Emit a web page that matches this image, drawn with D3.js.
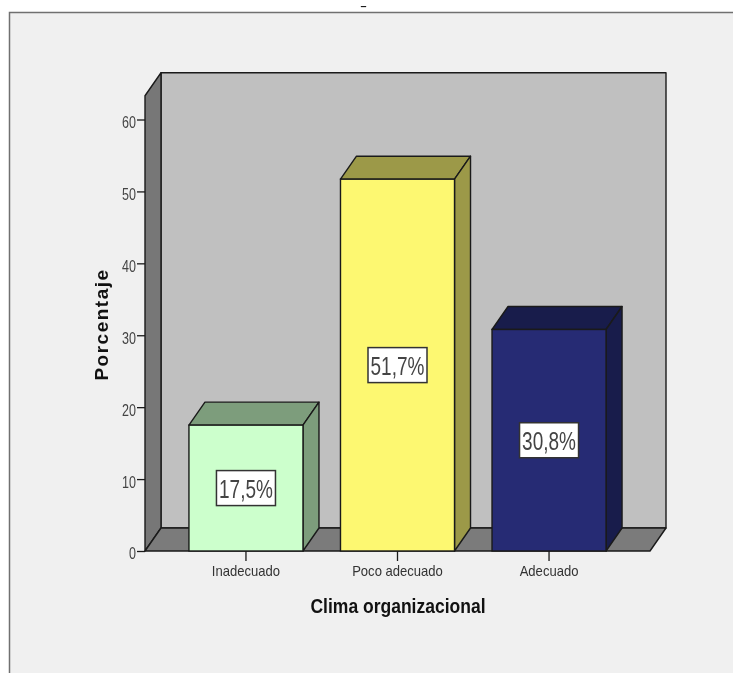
<!DOCTYPE html>
<html><head><meta charset="utf-8">
<script src="https://cdn.jsdelivr.net/npm/d3@7/dist/d3.min.js"></script>
<style>
html,body{margin:0;padding:0;background:#fff;overflow:hidden}
svg{display:block;filter:blur(0.35px)}
text{font-family:"Liberation Sans",Arial,sans-serif}
</style></head><body>
<svg id="c" width="733" height="673"></svg>
<script>
const categories = ["Inadecuado","Poco adecuado","Adecuado"];
const percentages = [17.5,51.7,30.8];
const valueLabels = ["17,5%","51,7%","30,8%"];
const yTicks = [0,10,20,30,40,50,60];
const frontColors = ["#ccffcc","#fdf871","#262b74"];
const topColors = ["#7d9d7c","#9c9948","#181c4b"];
const xTitle = "Clima organizacional";
const yTitle = "Porcentaje";

const svg = d3.select("#c");
const depth = {x:16, y:-23};
const y = d3.scaleLinear().domain([0,60]).range([551,119.5]);
const axisTop = y(63.3);
const x = d3.scaleBand().domain(categories).range([145,650]).paddingInner(0.2475).paddingOuter(0.29);
const stroke = "#1a1a1a";
const squeeze = (sel,f)=>sel.each(function(){
  const n=this.getComputedTextLength();
  d3.select(this).attr("textLength",n*f).attr("lengthAdjust","spacingAndGlyphs");
});

svg.append("rect").attr("x",9.5).attr("y",12.5).attr("width",740).attr("height",680)
  .attr("fill","#f0f0f0").attr("stroke","#707070").attr("stroke-width",1.5);
svg.append("text").attr("x",363.5).attr("y",8.8).attr("text-anchor","middle")
  .attr("font-size",9).attr("font-weight","bold").attr("fill","#111").attr("textLength",7)
  .attr("lengthAdjust","spacingAndGlyphs").text("-");

const line = d3.line();
const poly = (pts,fill,g=svg)=>g.append("path").attr("d",line(pts)+"Z")
  .attr("fill",fill).attr("stroke",stroke).attr("stroke-width",1.4).attr("stroke-linejoin","round");

const L=x.range()[0], R=x.range()[1], B=y(0);
poly([[L+depth.x,axisTop+depth.y],[R+depth.x,axisTop+depth.y],[R+depth.x,B+depth.y],[L+depth.x,B+depth.y]],"#c0c0c0");
poly([[L,axisTop],[L+depth.x,axisTop+depth.y],[L+depth.x,B+depth.y],[L,B]],"#777777");
poly([[L,B],[L+depth.x,B+depth.y],[R+depth.x,B+depth.y],[R,B]],"#7b7b7b");

const yAxis = d3.axisLeft(y).tickValues(yTicks).tickSize(8).tickPadding(1).tickFormat(d3.format("d"));
const ya = svg.append("g").attr("transform",`translate(${L},0)`).call(yAxis);
ya.select(".domain").remove();
ya.selectAll("line").attr("stroke",stroke).attr("stroke-width",1.3);
ya.selectAll("text").attr("font-size",16.5).attr("fill","#444").attr("dy","0.48em").call(squeeze,0.76);

const xAxis = d3.axisBottom(x).tickSize(10).tickPadding(4);
const xa = svg.append("g").attr("transform",`translate(0,${B})`).call(xAxis);
xa.select(".domain").remove();
xa.selectAll("line").attr("stroke",stroke).attr("stroke-width",1.3);
xa.selectAll("text").attr("font-size",15).attr("fill","#333").call(squeeze,0.87);

categories.forEach((c,i)=>{
  const x0=x(c), x1=x0+x.bandwidth(), t=y(percentages[i]);
  const g=svg.append("g");
  poly([[x0,t],[x0+depth.x,t+depth.y],[x1+depth.x,t+depth.y],[x1,t]],topColors[i],g);
  poly([[x1,t],[x1+depth.x,t+depth.y],[x1+depth.x,B+depth.y],[x1,B]],topColors[i],g);
  g.append("rect").attr("x",x0).attr("y",t).attr("width",x.bandwidth()).attr("height",B-t)
    .attr("fill",frontColors[i]).attr("stroke",stroke).attr("stroke-width",1.4);
  const cx=x0+x.bandwidth()/2, cy=(t+B)/2;
  g.append("rect").attr("x",cx-29.5).attr("y",cy-17.5).attr("width",59).attr("height",35)
    .attr("fill","#fff").attr("stroke","#333").attr("stroke-width",1.5);
  g.append("text").attr("x",cx).attr("y",cy+9.5).attr("text-anchor","middle")
    .attr("font-size",25).attr("fill","#444").text(valueLabels[i]).call(squeeze,0.76);
});

svg.append("text").attr("x",398).attr("y",612.5).attr("text-anchor","middle")
  .attr("font-size",20).attr("font-weight","bold").attr("fill","#111").text(xTitle).call(squeeze,0.875);
svg.append("text").attr("transform","translate(108,324.5) rotate(-90)").attr("text-anchor","middle")
  .attr("font-size",19).attr("font-weight","bold")
  .attr("letter-spacing",1.5).attr("fill","#111").text(yTitle);
</script></body></html>
